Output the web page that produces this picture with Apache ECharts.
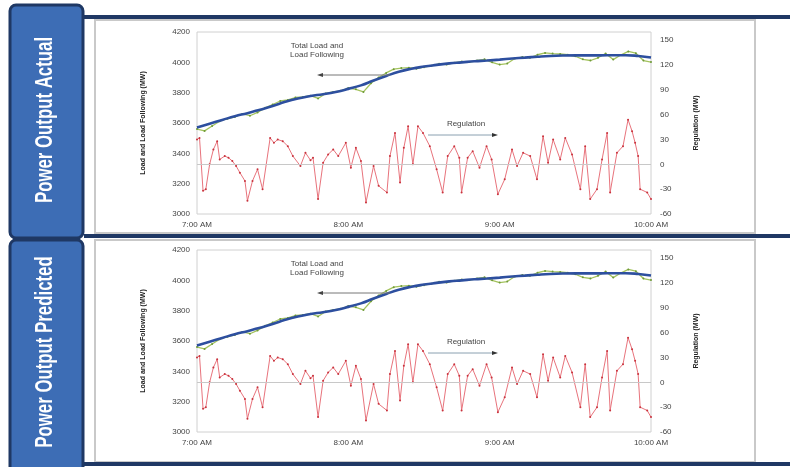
<!DOCTYPE html>
<html>
<head>
<meta charset="utf-8">
<script src="https://cdn.jsdelivr.net/npm/echarts@6/dist/echarts.min.js"></script>
<style>
html,body{margin:0;padding:0;background:#fff;}
#c{width:790px;height:467px;}
</style>
</head>
<body>
<div id="c"></div>
<script>
// ---- data ----
const panelTitles = ['Power Output Actual', 'Power Output Predicted'];
const timeLabels = ['7:00 AM', '8:00 AM', '9:00 AM', '10:00 AM'];
const leftTicks = [3000, 3200, 3400, 3600, 3800, 4000, 4200];
const rightTicks = [-60, -30, 0, 30, 60, 90, 120, 150];

// minutes after 7:00
const followTimes = [0,5,10,15,20,25,30,35,40,45,50,55,60,65,70,75,80,85,90,95,100,105,110,115,120,125,130,135,140,145,150,155,160,165,170,175,180];
const followValues = [3570,3595,3620,3645,3665,3688,3712,3740,3762,3778,3790,3805,3825,3848,3880,3910,3938,3958,3972,3983,3993,4000,4007,4012,4018,4025,4031,4037,4042,4045,4046,4046,4046,4047,4047,4042,4032];

const loadTimes = [0,3,6,9,12,15,18,21,24,27,30,33,36,39,42,45,48,51,54,57,60,63,66,69,72,75,78,81,84,87,90,93,96,99,102,105,108,111,114,117,120,123,126,129,132,135,138,141,144,147,150,153,156,159,162,165,168,171,174,177,180];
const loadValues = [3560,3548,3580,3612,3628,3640,3660,3648,3670,3700,3722,3745,3752,3768,3772,3780,3762,3795,3805,3812,3830,3822,3805,3862,3900,3930,3955,3962,3965,3958,3968,3978,3990,3985,3998,4005,4002,4012,4020,4000,3985,3992,4025,4035,4030,4050,4062,4058,4055,4050,4040,4020,4012,4030,4058,4018,4048,4072,4060,4012,4002];

const regTimes = [0,1,2.4,3.5,5,6.5,8,9,11,12.5,14,15.5,17,19,20,22,24,26,29,30.5,32,34,36,38,41,43,45,46,48,50,52,54,56,59,61,63,65,67,70,72,75.3,76.5,78.5,80.5,82,83.7,85.6,87.6,89.6,92.3,95,97.4,99.4,102,104,104.9,107.3,109.3,112,114.8,116.8,119.3,122,124.9,126.9,129.3,132.1,134.8,137.2,139.2,141.2,144,146,148.7,152,153.9,155.9,158.6,160.6,162.6,163.8,166.5,168.9,170.9,172.5,173.7,174.9,175.7,178.5,180];
const regValues = [30,32,-32,-30,0,18,28,6,10,8,4,-2,-10,-20,-44,-20,-6,-30,32,26,30,28,22,10,-2,14,5,8,-42,2,12,18,10,26,-4,20,4,-46,-2,-26,-34,10,38,-22,20,46,0,46,38,22,-6,-34,10,22,8,-34,8,16,-4,22,6,-36,-18,18,-2,14,10,-18,34,2,30,6,32,12,-30,22,-42,-30,6,38,-34,14,22,54,40,26,10,-30,-34,-42];

// ---- layout ----
const panelTop = [32, 250];
const plotH = 182;
const plotLeft = 197, plotW = 454;

function pairs(t, v){ return t.map((x,i)=>[x, v[i]]); }

const chart = echarts.init(document.getElementById('c'), null, {renderer:'canvas'});

const grids = [], xAxes = [], yAxes = [], series = [], graphics = [];
const lblFont = 'Liberation Sans, Arial, sans-serif';

// decorative frame
graphics.push({type:'rect', shape:{x:95,y:20,width:660,height:213}, style:{fill:'#fff', stroke:'#c9c9c9', lineWidth:2}, z:-10});
graphics.push({type:'rect', shape:{x:95,y:240,width:660,height:222}, style:{fill:'#fff', stroke:'#c9c9c9', lineWidth:2}, z:-10});
[17, 236, 464].forEach(y=>{
  graphics.push({type:'rect', shape:{x:84,y:y-2,width:706,height:4}, style:{fill:'#1f3864'}, z:5});
});
const boxY = [[5,233],[240,240]];
boxY.forEach((b,i)=>{
  graphics.push({type:'rect', shape:{x:10,y:b[0],width:73,height:b[1],r:6}, style:{fill:'#3d6db5', stroke:'#1f3864', lineWidth:3}, z:6});
  graphics.push({type:'text', x:46, y: i===0?120:352, rotation:Math.PI/2, scaleX:0.8, scaleY:1.1,
    style:{text:panelTitles[i], fill:'#fff', font:'bold 21px Liberation Sans, Arial, sans-serif', textAlign:'center', textVerticalAlign:'middle'}, z:7});
});

panelTop.forEach((top, p)=>{
  grids.push({left:plotLeft, top:top, width:plotW, height:plotH, show:true, borderColor:'#d0d0d0', borderWidth:1, backgroundColor:'#fff'});
  xAxes.push({type:'value', gridIndex:p, min:0, max:180, interval:60,
    axisLine:{show:false}, axisTick:{show:false}, splitLine:{show:false},
    axisLabel:{color:'#444', fontSize:8, fontFamily:lblFont, margin:7, formatter:v=>timeLabels[v/60]}});
  yAxes.push({type:'value', gridIndex:p, position:'left', min:leftTicks[0], max:leftTicks[leftTicks.length-1], interval:200,
    name:'Load and Load Following (MW)', nameLocation:'middle', nameGap:50, nameRotate:90,
    nameTextStyle:{fontSize:7, fontWeight:'bold', color:'#222', fontFamily:lblFont},
    axisLine:{show:false}, axisTick:{show:false}, splitLine:{show:false},
    axisLabel:{color:'#444', fontSize:8, fontFamily:lblFont, margin:7, formatter:v=>String(v)}});
  yAxes.push({type:'value', gridIndex:p, position:'right', min:rightTicks[0], max:160, interval:30,
    name:'Regulation (MW)', nameLocation:'middle', nameGap:42, nameRotate:90,
    nameTextStyle:{fontSize:7, fontWeight:'bold', color:'#222', fontFamily:lblFont},
    axisLine:{show:false}, axisTick:{show:false}, splitLine:{show:false},
    axisLabel:{color:'#444', fontSize:8, fontFamily:lblFont, margin:9, formatter:v=> rightTicks.indexOf(v)>=0 ? String(v) : ''}});

  series.push({type:'line', xAxisIndex:p, yAxisIndex:p*2+1, data:pairs(regTimes, regValues),
    symbol:'circle', symbolSize:2, showSymbol:true, itemStyle:{color:'#c8323c'},
    lineStyle:{color:'#e8737c', width:1}, z:2, animation:false,
    markLine:{silent:true, symbol:'none', label:{show:false}, lineStyle:{color:'#c8c8c8', type:'solid', width:1}, data:[{yAxis:0}]}});
  series.push({type:'line', xAxisIndex:p, yAxisIndex:p*2, data:pairs(loadTimes, loadValues),
    symbol:'circle', symbolSize:2, showSymbol:true, itemStyle:{color:'#6f9a3a'},
    lineStyle:{color:'#a4c35e', width:1.3}, z:3, animation:false});
  series.push({type:'line', xAxisIndex:p, yAxisIndex:p*2, data:pairs(followTimes, followValues),
    smooth:true, symbol:'none', lineStyle:{color:'#2d4f9f', width:2.6}, z:4, animation:false});

  const off = top - 32;
  graphics.push({type:'text', x:317, y:50+off, style:{text:'Total Load and\nLoad Following', fill:'#444', font:'8px '+lblFont, textAlign:'center', textVerticalAlign:'middle', lineHeight:9}, z:10});
  graphics.push({type:'line', shape:{x1:321,y1:75+off,x2:390,y2:75+off}, style:{stroke:'#777', lineWidth:1}, z:10});
  graphics.push({type:'polygon', shape:{points:[[317,75+off],[323,73+off],[323,77+off]]}, style:{fill:'#444'}, z:10});
  graphics.push({type:'text', x:466, y:124+off, style:{text:'Regulation', fill:'#444', font:'8px '+lblFont, textAlign:'center', textVerticalAlign:'middle'}, z:10});
  graphics.push({type:'line', shape:{x1:428,y1:135+off,x2:494,y2:135+off}, style:{stroke:'#8aa0b0', lineWidth:1}, z:10});
  graphics.push({type:'polygon', shape:{points:[[498,135+off],[492,133+off],[492,137+off]]}, style:{fill:'#333'}, z:10});
});

chart.setOption({
  animation:false,
  backgroundColor:'#fff',
  graphic:graphics,
  grid:grids, xAxis:xAxes, yAxis:yAxes, series:series
});
</script>
</body>
</html>
